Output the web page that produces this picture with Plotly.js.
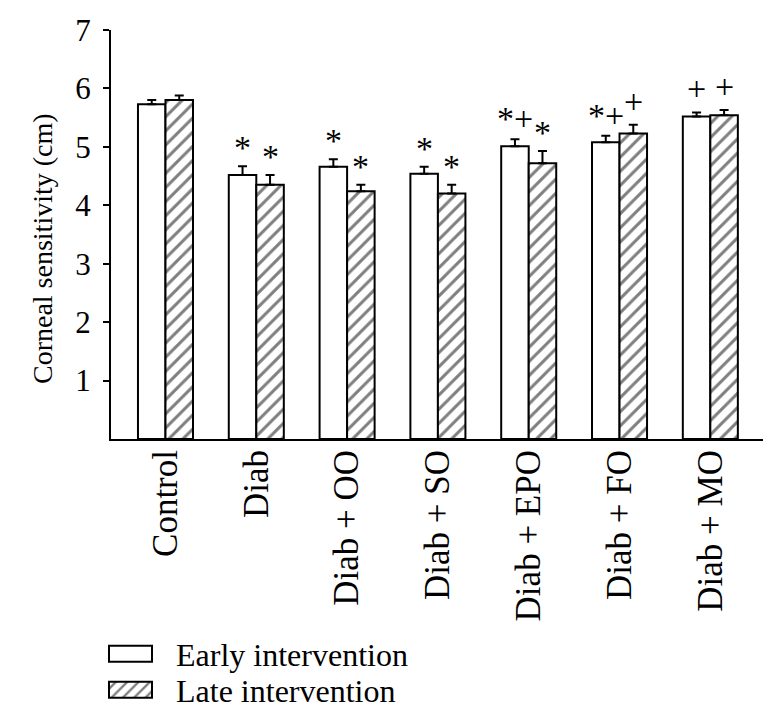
<!DOCTYPE html>
<html><head><meta charset="utf-8">
<script src="https://cdn.plot.ly/plotly-3.0.1.min.js"></script>
<style>html,body{margin:0;padding:0;background:#fff}#chart{width:784px;height:727px}</style>
</head><body><div id="chart"></div>
<script>
const categories = ["Control", "Diab", "Diab + OO", "Diab + SO", "Diab + EPO", "Diab + FO", "Diab + MO"];
const seriesNames = ["Early intervention", "Late intervention"];
const earlyValues = [5.73, 4.52, 4.66, 4.54, 5.01, 5.08, 5.52];
const earlyErrors = [0.07, 0.15, 0.13, 0.12, 0.12, 0.11, 0.07];
const lateValues  = [5.80, 4.35, 4.24, 4.20, 4.72, 5.23, 5.54];
const lateErrors  = [0.08, 0.17, 0.11, 0.15, 0.21, 0.15, 0.09];
const earlySig = ["", "*", "*", "*", "*+", "*+", "+"];
const lateSig  = ["", "*", "*", "*", "*", "+", "+"];
const yTickVals = [1, 2, 3, 4, 5, 6, 7];
const yTitle = "Corneal sensitivity (cm)";

const FONT = "Liberation Serif, Times New Roman, serif";
const BARGAP = 0.394;
const half = (1 - BARGAP) / 4; // offset of each bar centre from category centre

const traces = [
  {
    type: "bar", x: categories, y: earlyValues, name: seriesNames[0], legend: "legend",
    marker: {color: "#fff", line: {color: "#000", width: 2}},
    error_y: {type: "data", symmetric: false, array: earlyErrors, arrayminus: earlyValues.map(() => 0),
              color: "#000", thickness: 2, width: 4.5}
  },
  {
    type: "bar", x: categories, y: lateValues, name: seriesNames[1], legend: "legend2",
    marker: {color: "#fff", line: {color: "#000", width: 2},
             pattern: {shape: "/", fgcolor: "#000", bgcolor: "#fff", size: 10, solidity: 0.3, fillmode: "overlay"}},
    error_y: {type: "data", symmetric: false, array: lateErrors, arrayminus: lateValues.map(() => 0),
              color: "#000", thickness: 2, width: 4.5}
  }
];

const annotations = [];
function addSig(labels, vals, errs, sign) {
  labels.forEach((t, i) => {
    if (!t) return;
    const shift = t === "+" ? 3 : (t.indexOf("+") >= 0 ? 0 : -2);
    annotations.push({
      x: i + sign * half, xref: "x", y: vals[i] + errs[i], yref: "y",
      text: t, showarrow: false, yanchor: "bottom", xanchor: "center",
      yshift: shift, font: {family: FONT, size: 34, color: "#000"}
    });
  });
}
addSig(earlySig, earlyValues, earlyErrors, -1);
addSig(lateSig, lateValues, lateErrors, 1);

// y-axis title, placed as in the reference (slightly below the plot's middle)
annotations.push({
  xref: "paper", yref: "paper", x: -0.1058, y: 0.4645, xanchor: "center", yanchor: "middle",
  text: yTitle, textangle: -90, showarrow: false, font: {family: FONT, size: 28, color: "#000"}
});

const legendBase = {
  x: -0.0046, xanchor: "left", yref: "container", yanchor: "middle", orientation: "v",
  font: {family: FONT, size: 32, color: "#000"}, itemwidth: 58, tracegroupgap: 0,
  bgcolor: "rgba(0,0,0,0)", borderwidth: 0
};

const layout = {
  width: 784, height: 727,
  margin: {l: 111, r: 21, t: 30, b: 288, autoexpand: false},
  paper_bgcolor: "#fff", plot_bgcolor: "#fff",
  font: {family: FONT, color: "#000"},
  barmode: "group", bargap: BARGAP, bargroupgap: 0,
  showlegend: true,
  legend: Object.assign({}, legendBase, {y: 1 - 654 / 727}),
  legend2: Object.assign({}, legendBase, {y: 1 - 690 / 727}),
  xaxis: {type: "category", range: [-0.6, 6.58], showline: true, linecolor: "#000", linewidth: 2,
          ticks: "", tickangle: -90, tickfont: {family: FONT, size: 35, color: "#000"}, ticklabelstandoff: -5,
          showgrid: false, zeroline: false, fixedrange: true, automargin: false},
  yaxis: {range: [0, 7], tickvals: yTickVals, showline: true, linecolor: "#000", linewidth: 2,
          ticks: "outside", ticklen: 6, tickwidth: 2, tickcolor: "#000",
          tickfont: {family: FONT, size: 31, color: "#000"}, ticklabelstandoff: 6,
          showgrid: false, zeroline: false, fixedrange: true, automargin: false},
  annotations: annotations
};

Plotly.newPlot("chart", traces, layout, {displayModeBar: false, staticPlot: true}).then(gd => {
  // widen legend swatches to match the reference's wide rectangles
  gd.querySelectorAll(".legendpoints path").forEach(p => {
    p.setAttribute("d", "M10,8H-33V-8H10Z");
  });
});
</script>
</body></html>
